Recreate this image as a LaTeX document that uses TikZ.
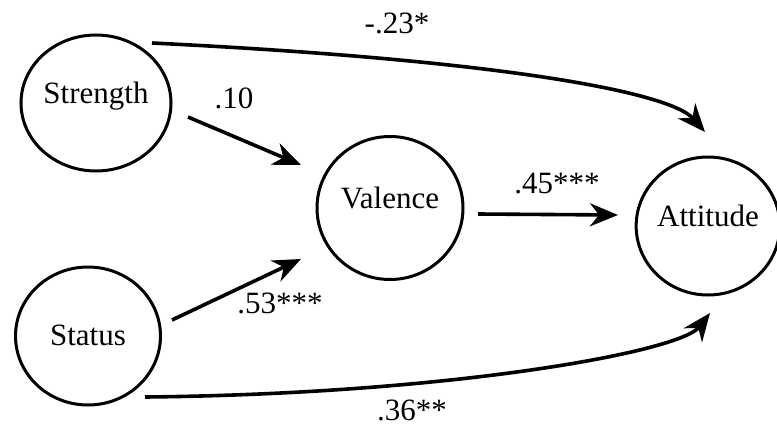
\documentclass[tikz,border=0pt]{standalone}
\usepackage{fontspec}
\setmainfont{Liberation Serif}
\usetikzlibrary{arrows.meta,shapes.geometric}
\begin{document}
\begin{tikzpicture}[x=1pt,y=-1pt,
  var/.style={ellipse,draw,line width=3pt,inner sep=0pt,font=\fontsize{31}{36}\selectfont,text height=21pt,text depth=21pt},
  pathline/.style={line width=3.6pt,-{Stealth[length=28pt,width=23pt,inset=9pt]}},
  coef/.style={font=\fontsize{31}{36}\selectfont,anchor=base,inner sep=0pt}]
\useasboundingbox (0,0) rectangle (777,431);
% variables
\node[var,minimum width=150pt,minimum height=136pt] (strength) at (96,103) {Strength};
\node[var,minimum width=145pt,minimum height=138pt,text height=30pt,text depth=11pt] (status) at (88,336) {Status};
\node[var,minimum width=146pt,minimum height=143pt] (valence) at (390,208) {Valence};
\node[var,minimum width=136pt,minimum height=138pt] (attitude) at (708,226) {Attitude};
% connector ends
\coordinate (s1) at (152,43);
\coordinate (a1) at (705,132);
\coordinate (s2) at (188,117);
\coordinate (v1) at (301,165);
\coordinate (t1) at (172,320);
\coordinate (v2) at (301,259);
\coordinate (v3) at (478,214);
\coordinate (a2) at (618,215);
\coordinate (t2) at (145,397);
\coordinate (a3) at (710,313);
% paths
\draw[pathline] (s1) .. controls (500,60) and (670,92) .. (a1);
\draw[pathline] (s2) -- (v1);
\draw[pathline] (t1) -- (v2);
\draw[pathline] (v3) -- (a2);
\draw[pathline] (t2) .. controls (450,394) and (680,352) .. (a3);
% coefficients
\node[coef] (c1) at (397,33) {-.23*};
\node[coef] (c2) at (234,108) {.10};
\node[coef] (c3) at (557,193) {.45***};
\node[coef] (c4) at (280,313) {.53***};
\node[coef] (c5) at (412,420) {.36**};
\end{tikzpicture}
\end{document}
